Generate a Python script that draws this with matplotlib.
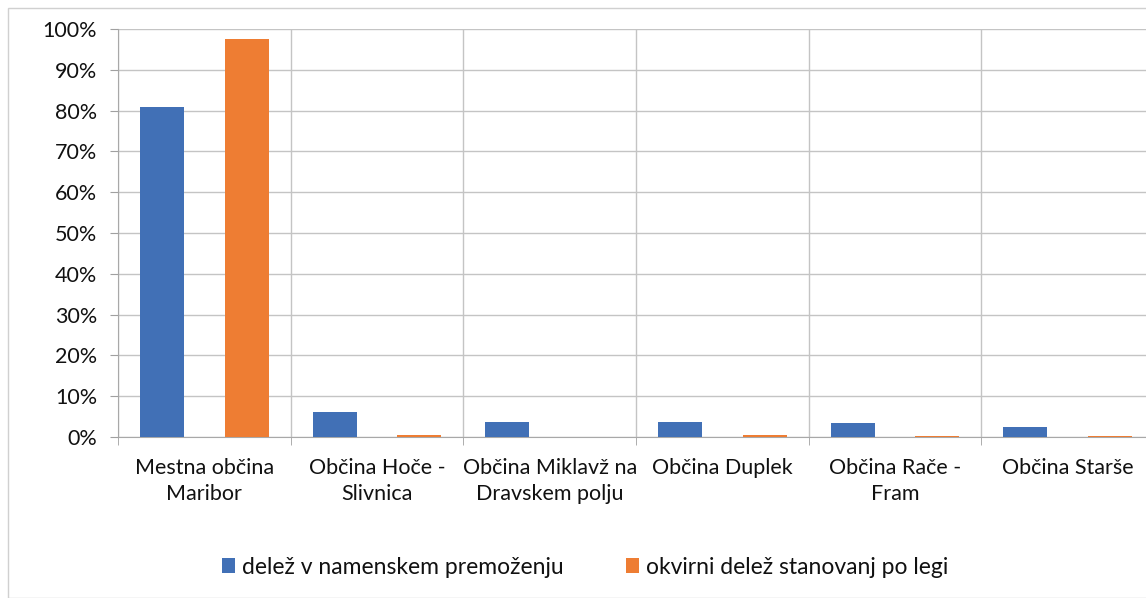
import matplotlib
matplotlib.use("Agg")
import matplotlib.pyplot as plt
from matplotlib.patches import Rectangle
from matplotlib.ticker import FixedLocator, PercentFormatter
import numpy as np

categories = ["Mestna občina\nMaribor", "Občina Hoče -\nSlivnica", "Občina Miklavž na\nDravskem polju",
              "Občina Duplek", "Občina Rače -\nFram", "Občina Starše"]
delez_premozenje = [80.8, 6.1, 3.7, 3.6, 3.5, 2.4]
delez_stanovanj = [97.5, 0.6, 0.0, 0.6, 0.3, 0.2]
series_names = ["delež v namenskem premoženju", "okvirni delež stanovanj po legi"]
yticks = list(range(0, 101, 10))

plt.rcParams['font.family'] = ['Lato', 'DejaVu Sans']

fig = plt.figure(figsize=(11.46, 5.98), dpi=100)
W, H = 1146, 598
left, right = 118, 1154
bottom, top = 437, 29
ax = fig.add_axes([left / W, 1 - bottom / H, (right - left) / W, (bottom - top) / H])

x = np.arange(len(categories))
bw = 0.255
off = 0.245
blue = "#4170b6"
orange = "#ee7d33"
ax.bar(x - off, delez_premozenje, bw, color=blue, label=series_names[0], zorder=3)
ax.bar(x + off, delez_stanovanj, bw, color=orange, label=series_names[1], zorder=3)

ax.set_xlim(-0.5, len(categories) - 0.5)
ax.set_ylim(0, 100)
ax.yaxis.set_major_locator(FixedLocator(yticks))
ax.yaxis.set_major_formatter(PercentFormatter(decimals=0))
ax.set_xticks(x)
ax.set_xticklabels(categories, fontsize=15.5, linespacing=1.4, color="#111111")
ax.xaxis.set_minor_locator(FixedLocator(np.arange(-0.5, len(categories), 1.0)))
ax.tick_params(axis='x', which='major', length=0, pad=15)
ax.tick_params(axis='x', which='minor', length=6, color="#a0a0a0")
ax.tick_params(axis='y', length=6, color="#a0a0a0", labelsize=15.5, pad=9, labelcolor="#111111")

ax.grid(True, axis='y', color="#c4c4c4", linewidth=1, zorder=0)
ax.grid(True, axis='x', which='minor', color="#c4c4c4", linewidth=1, zorder=0)
for s in ['top', 'right']:
    ax.spines[s].set_visible(False)
ax.spines['left'].set_color("#a8a8a8")
ax.spines['bottom'].set_color("#a8a8a8")

leg = fig.legend(loc='center', bbox_to_anchor=(585 / W, 1 - 567 / H), ncol=2, frameon=False,
                 fontsize=16.5, handlelength=0.6, handleheight=0.6, handletextpad=0.3,
                 columnspacing=2.7)
for t in leg.get_texts():
    t.set_color("#111111")

fig.patches.append(Rectangle((8 / W, 0), 1, 1 - 8 / H, transform=fig.transFigure,
                             fill=False, edgecolor="#d0d0d0", linewidth=1))

fig.savefig("out.png", dpi=100)
